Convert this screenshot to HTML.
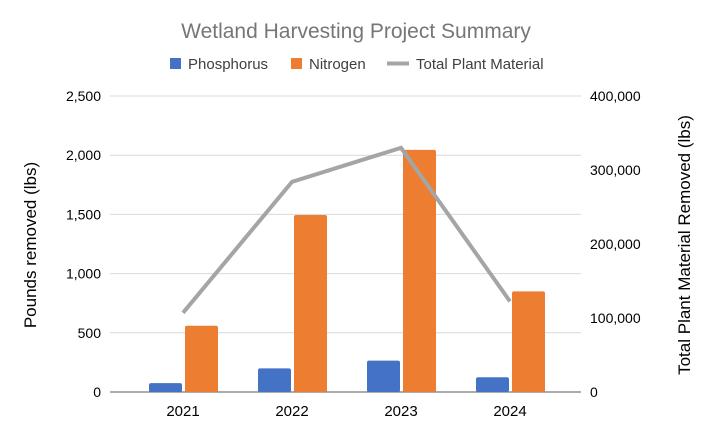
<!DOCTYPE html>
<html><head><meta charset="utf-8"><style>
body{margin:0;background:#fff;}
svg text{font-family:"Liberation Sans",sans-serif;}
</style></head><body>
<svg width="712" height="433">
<rect width="712" height="433" fill="#fff"/>
<text x="356" y="38" text-anchor="middle" font-size="21" fill="#767676">Wetland Harvesting Project Summary</text>
<g>
<rect x="170" y="58" width="11" height="11" fill="#4472c4"/>
<text x="188" y="69" font-size="15" fill="#404040">Phosphorus</text>
<rect x="291" y="58" width="11" height="11" fill="#ed7d31"/>
<text x="309" y="69" font-size="15" fill="#404040">Nitrogen</text>
<line x1="387" y1="63.5" x2="409" y2="63.5" stroke="#a5a5a5" stroke-width="4"/>
<text x="416" y="69" font-size="15" fill="#404040">Total Plant Material</text>
</g>
<text transform="translate(36,245) rotate(-90)" text-anchor="middle" font-size="17" fill="#000">Pounds removed (lbs)</text>
<text transform="translate(690,245) rotate(-90)" text-anchor="middle" font-size="17" fill="#000">Total Plant Material Removed (lbs)</text>
<g id="grid"></g><g id="bars"></g><g id="line"></g><g id="labels"></g>
</svg>
<script>
const categories=["2021","2022","2023","2024"];
const phosphorus=[75,200,265,125];
const nitrogen=[560,1495,2045,850];
const totalPlant=[107000,284000,330000,122500];
const leftTicks=[0,500,1000,1500,2000,2500];
const rightTicks=[0,100000,200000,300000,400000];
const NS="http://www.w3.org/2000/svg";
const y0=392,yTop=96,x0=110,x1=581;
const yL=v=>y0-(y0-yTop)*v/2500;
const yR=v=>y0-(y0-yTop)*v/400000;
const xC=i=>183+109*i;
function mk(t,a,p){const e=document.createElementNS(NS,t);for(const k in a)e.setAttribute(k,a[k]);p.appendChild(e);return e;}
const grid=document.getElementById('grid'),bars=document.getElementById('bars'),line=document.getElementById('line'),labels=document.getElementById('labels');
leftTicks.forEach(v=>{
 const l=mk('line',{x1:x0,x2:x1,y1:yL(v),y2:yL(v),stroke:v===0?'#595959':'#d9d9d9','stroke-width':1},grid);
 
 
 const t=mk('text',{x:101,y:yL(v)+5,'text-anchor':'end','font-size':14,fill:'#000'},labels);
 t.textContent=v.toLocaleString('en-US');
 
 
});
rightTicks.forEach(v=>{
 const t=mk('text',{x:590,y:yR(v)+5,'font-size':14,fill:'#000'},labels);
 t.textContent=v.toLocaleString('en-US');
 
 
});
categories.forEach((c,i)=>{
 const bp=mk('rect',{x:xC(i)-34,y:yL(phosphorus[i]),width:33,height:y0-yL(phosphorus[i]),fill:'#4472c4',rx:2},bars);
 
 
 const bn=mk('rect',{x:xC(i)+2,y:yL(nitrogen[i]),width:33,height:y0-yL(nitrogen[i]),fill:'#ed7d31',rx:2},bars);
 
 
 const t=mk('text',{x:xC(i),y:416,'text-anchor':'middle','font-size':15,fill:'#000'},labels);
 t.textContent=c;
 
 
});
const pl=mk('polyline',{points:totalPlant.map((v,i)=>xC(i)+','+yR(v)).join(' '),fill:'none',stroke:'#a5a5a5','stroke-width':4},line);


</script>
</body></html>
